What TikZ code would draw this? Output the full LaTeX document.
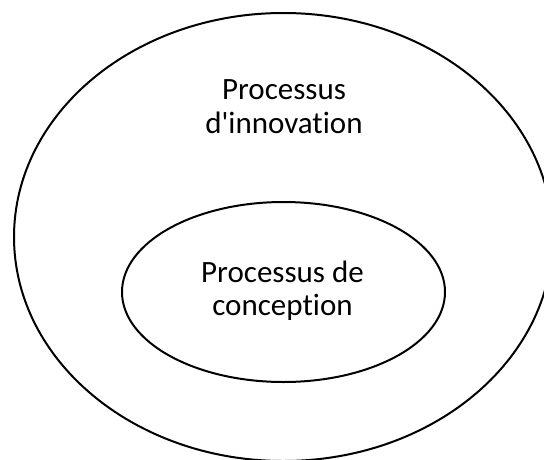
\documentclass[tikz,border=0pt]{standalone}
\usepackage{fontspec}
\setmainfont{Carlito}[Ligatures={NoCommon},Mapping=]
\usetikzlibrary{shapes.geometric}
\begin{document}
\begin{tikzpicture}[x=1pt,y=-1pt,
  ring/.style={draw=black,line width=2pt,ellipse,inner sep=0pt,fill=none},
  lbl/.style={anchor=base,inner sep=0pt,font=\fontsize{31}{34}\selectfont}]
\useasboundingbox (0,0) rectangle (544,459);
\clip (0,0) rectangle (544,459);
\node[ring,minimum width=538.6pt,minimum height=448pt] (outer) at (283.3,237) {};
\node[ring,minimum width=323pt,minimum height=180pt] (inner) at (283.5,292) {};
\node[lbl] (o1) at (284,99.3) {Processus};
\node[lbl] (o2) at (284,133.3) {d\symbol{39}innovation};
\node[lbl] (i1) at (282.5,282.7) {Processus de};
\node[lbl] (i2) at (282.5,315.5) {conception};
\end{tikzpicture}
\end{document}
